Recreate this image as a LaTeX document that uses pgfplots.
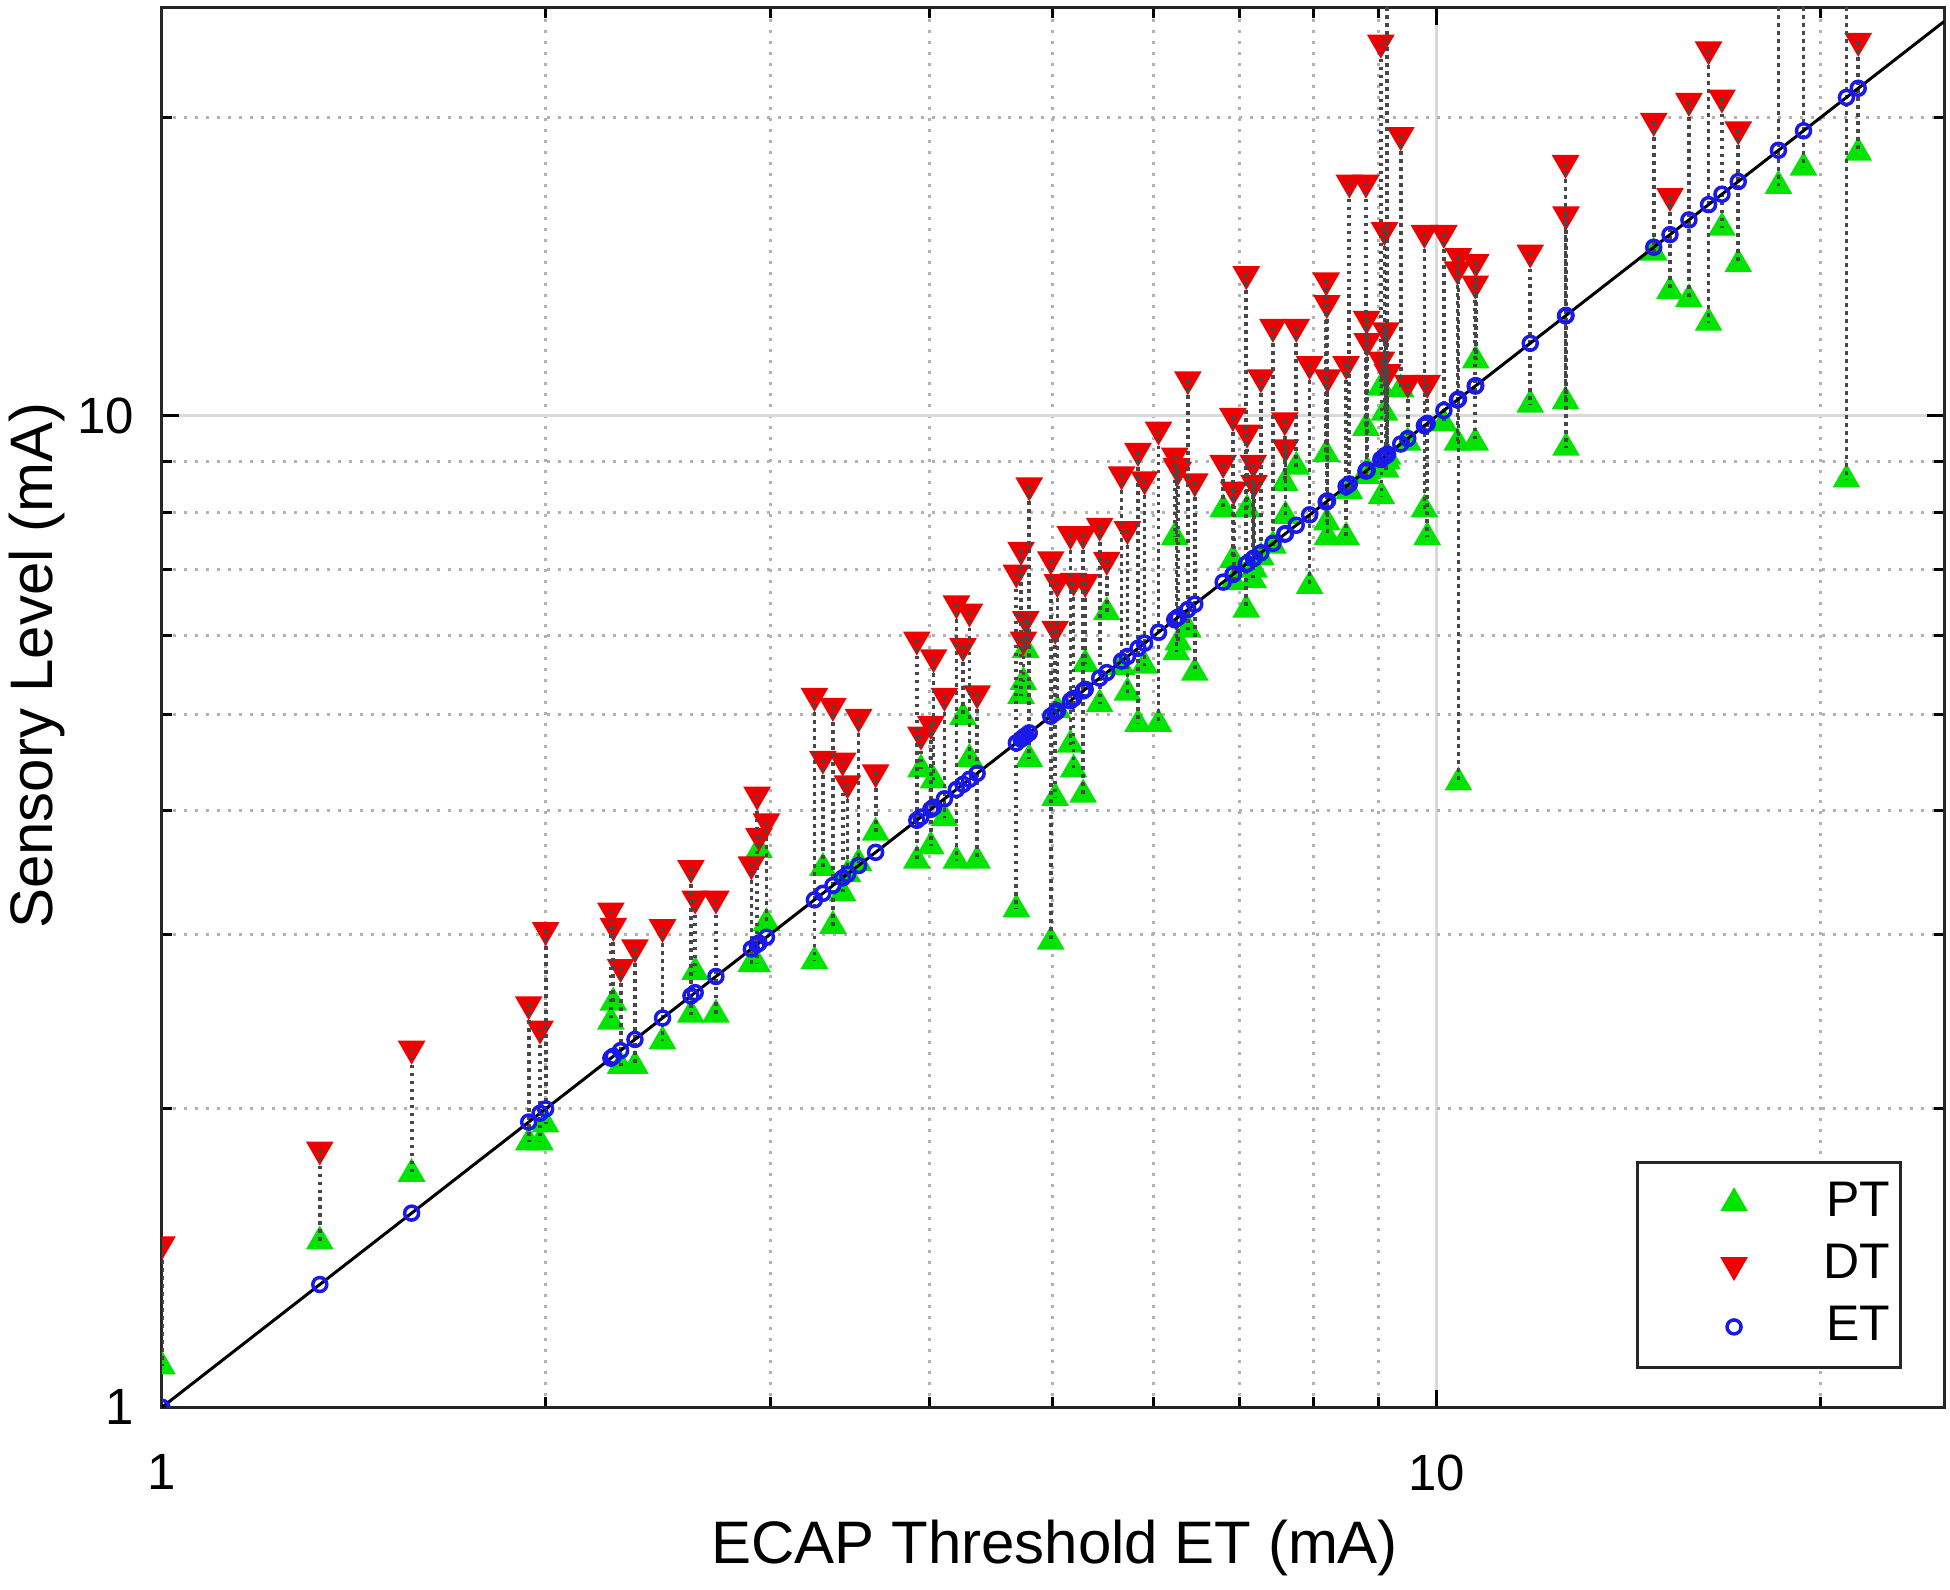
\documentclass[border=0pt]{standalone}
\usepackage{fontspec}
\setmainfont{Liberation Sans}
\usepackage{pgfplots}
\usepackage{pgfplotstable}
\pgfplotsset{compat=1.18}
\definecolor{ptgreen}{RGB}{0,228,0}
\definecolor{dtred}{RGB}{238,0,0}
\definecolor{etblue}{RGB}{25,25,235}
\pgfplotsset{myleg/.style={legend image code/.code={\path (0pt,-3pt) (28pt,3pt); \draw[##1] plot coordinates {(19pt,0pt)};}}}

\pgfplotstableread{
x pt dt
1.00 1.10 1.46
1.33 1.47 1.82
1.57 1.72 2.30
1.94 1.85 2.55
1.98 1.85 2.41
2.00 1.93 3.03
2.25 2.45 3.17
2.26 2.56 3.06
2.29 2.21 2.78
2.35 2.21 2.91
2.47 2.34 3.05
2.60 2.49 3.50
2.62 2.75 3.26
2.72 2.49 3.26
2.90 2.80 3.53
2.93 2.80 4.15
2.94 3.65 3.77
2.98 3.08 3.90
3.25 2.82 5.22
3.30 3.50 4.51
3.36 3.06 5.10
3.42 3.30 4.49
3.45 3.45 4.26
3.52 3.54 4.97
3.63 3.80 4.37
3.91 3.56 5.95
3.94 4.40 4.77
4.01 3.68 4.89
4.03 4.29 5.71
4.11 3.93 5.22
4.20 3.56 6.47
4.25 4.97 5.86
4.30 4.51 6.35
4.36 3.56 5.25
4.68 3.18 6.95
4.72 5.22 7.33
4.74 5.39 5.95
4.76 5.81 6.24
4.79 4.51 8.51
4.98 2.95 7.17
5.02 4.12 6.10
5.04 5.05 6.80
5.16 4.66 7.60
5.19 4.40 6.82
5.28 4.15 7.60
5.30 5.62 6.80
5.44 5.12 7.75
5.51 6.34 7.16
5.66 5.58 8.73
5.72 5.26 7.69
5.83 4.89 9.22
5.90 5.60 8.63
6.05 4.89 9.69
6.23 7.55 9.12
6.25 5.78 8.90
6.27 5.91 8.83
6.38 6.09 10.89
6.46 5.51 8.59
6.80 8.05 8.97
6.92 7.16 10.00
6.93 6.80 8.43
7.09 6.38 13.90
7.10 8.05 9.62
7.18 6.83 8.97
7.19 7.00 8.56
7.28 7.20 10.94
7.44 7.40 12.30
7.60 8.56 9.90
7.61 7.93 9.30
7.76 8.89 12.30
7.95 6.74 11.28
8.19 9.15 13.70
8.20 7.81 13.00
8.21 7.55 10.94
8.49 7.55 11.28
8.54 8.40 17.20
8.80 9.73 17.20
8.81 8.70 12.53
8.82 8.80 11.90
9.04 10.68 23.80
9.05 8.30 11.40
9.10 10.08 15.40
9.12 8.83 12.20
9.14 9.00 30.00
9.15 9.10 11.07
9.37 10.64 19.20
9.49 9.40 10.80
9.78 8.05 15.30
9.83 7.55 10.80
10.13 9.83 15.30
10.38 9.40 14.06
10.40 4.27 14.50
10.72 9.40 13.60
10.73 11.38 14.30
11.84 10.27 14.62
12.62 10.35 18.00
12.63 9.29 15.97
14.80 14.62 19.85
15.24 13.37 16.67
15.77 13.12 20.79
16.34 12.42 23.43
16.74 15.49 20.95
17.24 14.23 19.46
18.54 17.07 30.00
19.40 17.81 30.00
20.96 8.63 30.00
21.41 18.44 23.90
}\data

\pgfplotstableread{
x y
1 1
25 25
}\diag

\begin{document}
\begin{tikzpicture}
\begin{axis}[
  name=ax,
  xmode=log, ymode=log,
  scale only axis, width=356.6pt, height=280pt,
  xmin=1, xmax=25, ymin=1, ymax=25.8,
  xtick={1,10}, xticklabels={1,10},
  ytick={1,10}, yticklabels={1,10},
  minor xtick={2,3,4,5,6,7,8,9,20},
  minor ytick={2,3,4,5,6,7,8,9,20},
  grid=both,
  major grid style={gray!30, line width=0.6pt},
  minor grid style={gray!60, line width=0.6pt, dash pattern=on 0.6pt off 1.6pt},
  major tick length=3.5pt, minor tick length=2pt,
  tick style={black, line width=0.6pt},
  axis line style={black!85, line width=0.6pt},
  tick label style={font=\fontsize{10.2}{12}\selectfont},
  xticklabel style={yshift=-6pt},
  yticklabel style={xshift=-2pt},
  label style={font=\fontsize{12}{14}\selectfont},
  xlabel={ECAP Threshold ET (mA)},
  ylabel={Sensory Level (mA)},
  xlabel style={at={(axis description cs:0.501,-0.1007)}, anchor=center},
  ylabel style={at={(axis description cs:-0.07,0.53)}, anchor=center},
  clip marker paths=true,
  legend style={at={(axis description cs:0.9764,0.0271)}, anchor=south east,
    draw=black!85, line width=0.6pt, font=\fontsize{10}{12}\selectfont,
    inner xsep=0pt, inner ysep=2pt},
]
\addplot[only marks, mark=triangle*, mark size=2.9pt, mark options={draw=ptgreen, fill=ptgreen, line width=0.3pt}, myleg] table[x=x, y=pt]{\data};
\addlegendentry{\makebox[20pt][r]{PT}}
\addplot[only marks, mark=triangle*, mark size=2.9pt, mark options={rotate=180, draw=dtred, fill=dtred, line width=0.3pt}, myleg] table[x=x, y=dt]{\data};
\addlegendentry{\makebox[20pt][r]{DT}}
\addplot[forget plot, draw=none, mark=none,
  error bars/.cd, y dir=minus, y explicit, error mark=none,
  error bar style={draw=black!72, line width=0.75pt, dash pattern=on 0.75pt off 0.85pt}]
  table[x=x, y=dt, y error minus expr=\thisrow{dt}-\thisrow{pt}]{\data};
\addplot[forget plot, black, line width=0.6pt, mark=none] table[x=x, y=y]{\diag};
\addplot[only marks, mark=o, mark size=1.4pt, mark options={draw=etblue, line width=0.7pt}, myleg] table[x=x, y=x]{\data};
\addlegendentry{\makebox[20pt][r]{ET}}
\end{axis}
\pgfresetboundingbox
\path ([xshift=-32.4pt,yshift=-36.4pt]ax.south west) rectangle ([xshift=1.2pt,yshift=1.6pt]ax.north east);
\end{tikzpicture}
\end{document}
